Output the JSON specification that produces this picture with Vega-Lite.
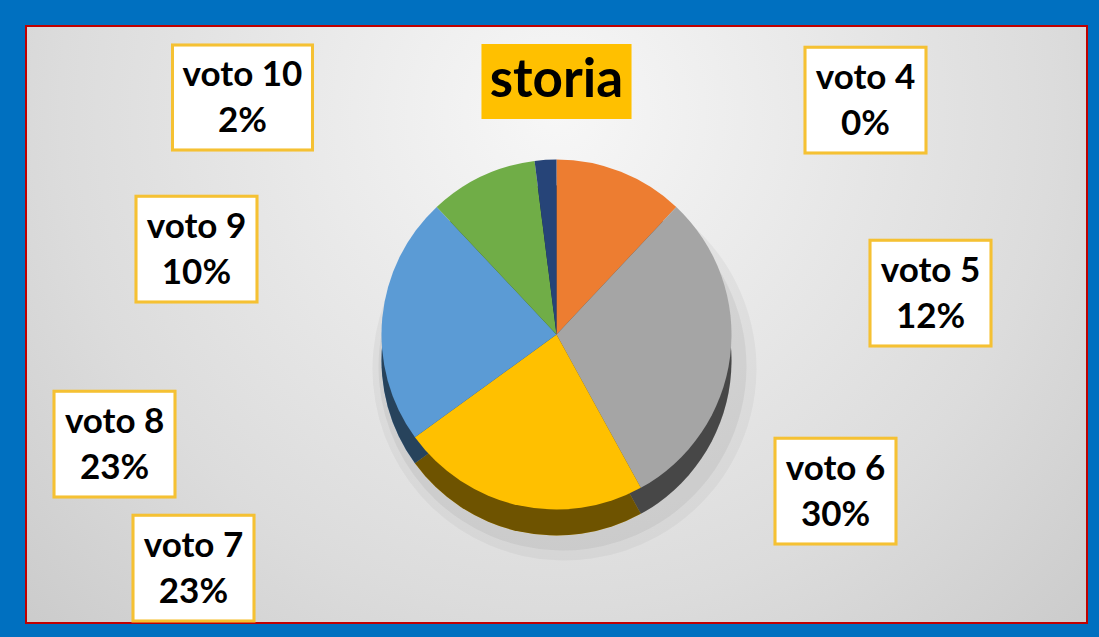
{
  "$schema": "https://vega.github.io/schema/vega-lite/v6.json",
  "width": 1061,
  "height": 597,
  "autosize": {"type": "none"},
  "padding": {"left": 26, "top": 26, "right": 12, "bottom": 14},
  "background": "#0070c0",
  "config": {"view": {"stroke": null}},
  "data": {
    "values": [
      {"voto": "voto 4", "grade": 4, "pct": 0},
      {"voto": "voto 5", "grade": 5, "pct": 0.12},
      {"voto": "voto 6", "grade": 6, "pct": 0.30},
      {"voto": "voto 7", "grade": 7, "pct": 0.23},
      {"voto": "voto 8", "grade": 8, "pct": 0.23},
      {"voto": "voto 9", "grade": 9, "pct": 0.10},
      {"voto": "voto 10", "grade": 10, "pct": 0.02}
    ]
  },
  "encoding": {
    "theta": {"field": "pct", "type": "quantitative", "stack": true},
    "order": {"field": "grade", "type": "quantitative"}
  },
  "layer": [
    {"data": {"values": [{"panel": "storia"}]},
     "mark": {"type": "rect", "stroke": "#c00000", "strokeWidth": 2,
       "fill": {"gradient": "radial", "x1": 0.5, "y1": 0.3, "r1": 0, "x2": 0.5, "y2": 0.3, "r2": 0.85,
         "stops": [{"offset": 0, "color": "#f7f7f7"}, {"offset": 0.55, "color": "#dcdcdc"}, {"offset": 1, "color": "#c0c0c0"}]}},
     "encoding": {"theta": null, "order": null}},

    {"mark": {"type": "arc", "radius": 192, "yOffset": 44, "xOffset": 8, "fill": "black", "opacity": 0.04}},
    {"mark": {"type": "arc", "radius": 184, "yOffset": 42, "xOffset": 6, "fill": "black", "opacity": 0.05}},

    {"mark": {"type": "arc", "radius": 175, "yOffset": 36},
     "encoding": {"color": {"field": "voto", "type": "nominal", "legend": null,
       "scale": {"domain": ["voto 4", "voto 5", "voto 6", "voto 7", "voto 8", "voto 9", "voto 10"],
                 "range": ["#4472c4", "#ed7d31", "#a5a5a5", "#ffc000", "#5b9bd5", "#70ad47", "#264478"]}}}},
    {"mark": {"type": "arc", "radius": 175, "yOffset": 36, "fill": "black", "opacity": 0.57}},
    {"mark": {"type": "arc", "radius": 175, "yOffset": 10},
     "encoding": {"color": {"field": "voto", "type": "nominal", "legend": null}}},

    {"data": {"values": [{"title": "storia"}]},
     "mark": {"type": "text", "theta": 0, "radius": 243.5, "dy": 19.5, "font": "Noto Sans CJK JP", "fontSize": 150, "baseline": "alphabetic", "align": "center", "fill": "#ffc000"},
     "encoding": {"theta": null, "order": null, "text": {"value": "▄"}}},
    {"data": {"values": [{"title": "storia"}]},
     "mark": {"type": "text", "theta": 0, "radius": 243.5, "font": "Lato", "fontSize": 53, "fontWeight": "bold", "baseline": "middle", "align": "center", "fill": "black"},
     "encoding": {"theta": null, "order": null, "text": {"field": "title"}}},

    {"mark": {"type": "text", "radius": 250, "dx": 309, "dy": 63, "font": "Noto Sans CJK JP", "fontSize": 121, "baseline": "alphabetic", "align": "center", "fill": "white", "stroke": "#f5c133", "strokeWidth": 3},
     "encoding": {"text": {"condition": {"test": "datum.grade == 4", "value": "▇"}, "value": ""}}},
    {"mark": {"type": "text", "radius": 250, "dx": 282, "dy": 238.5, "font": "Noto Sans CJK JP", "fontSize": 121, "baseline": "alphabetic", "align": "center", "fill": "white", "stroke": "#f5c133", "strokeWidth": 3},
     "encoding": {"text": {"condition": {"test": "datum.grade == 5", "value": "▇"}, "value": ""}}},
    {"mark": {"type": "text", "radius": 250, "dx": 31, "dy": 172.7, "font": "Noto Sans CJK JP", "fontSize": 121, "baseline": "alphabetic", "align": "center", "fill": "white", "stroke": "#f5c133", "strokeWidth": 3},
     "encoding": {"text": {"condition": {"test": "datum.grade == 6", "value": "▇"}, "value": ""}}},
    {"mark": {"type": "text", "radius": 250, "dx": -308.5, "dy": 38, "font": "Noto Sans CJK JP", "fontSize": 121, "baseline": "alphabetic", "align": "center", "fill": "white", "stroke": "#f5c133", "strokeWidth": 3},
     "encoding": {"text": {"condition": {"test": "datum.grade == 7", "value": "▇"}, "value": ""}}},
    {"mark": {"type": "text", "radius": 250, "dx": -193, "dy": 181.5, "font": "Noto Sans CJK JP", "fontSize": 121, "baseline": "alphabetic", "align": "center", "fill": "white", "stroke": "#f5c133", "strokeWidth": 3},
     "encoding": {"text": {"condition": {"test": "datum.grade == 8", "value": "▇"}, "value": ""}}},
    {"mark": {"type": "text", "radius": 250, "dx": -253.6, "dy": 189.2, "font": "Noto Sans CJK JP", "fontSize": 121, "baseline": "alphabetic", "align": "center", "fill": "white", "stroke": "#f5c133", "strokeWidth": 3},
     "encoding": {"text": {"condition": {"test": "datum.grade == 9", "value": "▇"}, "value": ""}}},
    {"mark": {"type": "text", "radius": 250, "dx": -298.3, "dy": 58.5, "font": "Noto Sans CJK JP", "fontSize": 140, "baseline": "alphabetic", "align": "center", "fill": "white", "stroke": "#f5c133", "strokeWidth": 3},
     "encoding": {"text": {"condition": {"test": "datum.grade == 10", "value": "▆"}, "value": ""}}},

    {"mark": {"type": "text", "radius": 250, "dx": 309, "dy": 3, "font": "Lato", "fontSize": 35, "fontWeight": "bold", "baseline": "middle", "align": "center", "fill": "black"},
     "encoding": {"text": {"condition": {"test": "datum.grade == 4", "field": "voto"}, "value": ""}}},
    {"mark": {"type": "text", "radius": 250, "dx": 282, "dy": 178.5, "font": "Lato", "fontSize": 35, "fontWeight": "bold", "baseline": "middle", "align": "center", "fill": "black"},
     "encoding": {"text": {"condition": {"test": "datum.grade == 5", "field": "voto"}, "value": ""}}},
    {"mark": {"type": "text", "radius": 250, "dx": 31, "dy": 112.7, "font": "Lato", "fontSize": 35, "fontWeight": "bold", "baseline": "middle", "align": "center", "fill": "black"},
     "encoding": {"text": {"condition": {"test": "datum.grade == 6", "field": "voto"}, "value": ""}}},
    {"mark": {"type": "text", "radius": 250, "dx": -308.5, "dy": -22, "font": "Lato", "fontSize": 35, "fontWeight": "bold", "baseline": "middle", "align": "center", "fill": "black"},
     "encoding": {"text": {"condition": {"test": "datum.grade == 7", "field": "voto"}, "value": ""}}},
    {"mark": {"type": "text", "radius": 250, "dx": -193, "dy": 121.5, "font": "Lato", "fontSize": 35, "fontWeight": "bold", "baseline": "middle", "align": "center", "fill": "black"},
     "encoding": {"text": {"condition": {"test": "datum.grade == 8", "field": "voto"}, "value": ""}}},
    {"mark": {"type": "text", "radius": 250, "dx": -253.6, "dy": 129.2, "font": "Lato", "fontSize": 35, "fontWeight": "bold", "baseline": "middle", "align": "center", "fill": "black"},
     "encoding": {"text": {"condition": {"test": "datum.grade == 9", "field": "voto"}, "value": ""}}},
    {"mark": {"type": "text", "radius": 250, "dx": -298.3, "dy": 0.5, "font": "Lato", "fontSize": 35, "fontWeight": "bold", "baseline": "middle", "align": "center", "fill": "black"},
     "encoding": {"text": {"condition": {"test": "datum.grade == 10", "field": "voto"}, "value": ""}}},

    {"mark": {"type": "text", "radius": 250, "dx": 309, "dy": 49, "font": "Lato", "fontSize": 35, "fontWeight": "bold", "baseline": "middle", "align": "center", "fill": "black"},
     "encoding": {"text": {"condition": {"test": "datum.grade == 4", "field": "pct", "type": "quantitative", "format": ".0%"}, "value": ""}}},
    {"mark": {"type": "text", "radius": 250, "dx": 282, "dy": 224.5, "font": "Lato", "fontSize": 35, "fontWeight": "bold", "baseline": "middle", "align": "center", "fill": "black"},
     "encoding": {"text": {"condition": {"test": "datum.grade == 5", "field": "pct", "type": "quantitative", "format": ".0%"}, "value": ""}}},
    {"mark": {"type": "text", "radius": 250, "dx": 31, "dy": 158.7, "font": "Lato", "fontSize": 35, "fontWeight": "bold", "baseline": "middle", "align": "center", "fill": "black"},
     "encoding": {"text": {"condition": {"test": "datum.grade == 6", "field": "pct", "type": "quantitative", "format": ".0%"}, "value": ""}}},
    {"mark": {"type": "text", "radius": 250, "dx": -308.5, "dy": 24, "font": "Lato", "fontSize": 35, "fontWeight": "bold", "baseline": "middle", "align": "center", "fill": "black"},
     "encoding": {"text": {"condition": {"test": "datum.grade == 7", "field": "pct", "type": "quantitative", "format": ".0%"}, "value": ""}}},
    {"mark": {"type": "text", "radius": 250, "dx": -193, "dy": 167.5, "font": "Lato", "fontSize": 35, "fontWeight": "bold", "baseline": "middle", "align": "center", "fill": "black"},
     "encoding": {"text": {"condition": {"test": "datum.grade == 8", "field": "pct", "type": "quantitative", "format": ".0%"}, "value": ""}}},
    {"mark": {"type": "text", "radius": 250, "dx": -253.6, "dy": 175.2, "font": "Lato", "fontSize": 35, "fontWeight": "bold", "baseline": "middle", "align": "center", "fill": "black"},
     "encoding": {"text": {"condition": {"test": "datum.grade == 9", "field": "pct", "type": "quantitative", "format": ".0%"}, "value": ""}}},
    {"mark": {"type": "text", "radius": 250, "dx": -298.3, "dy": 46.5, "font": "Lato", "fontSize": 35, "fontWeight": "bold", "baseline": "middle", "align": "center", "fill": "black"},
     "encoding": {"text": {"condition": {"test": "datum.grade == 10", "field": "pct", "type": "quantitative", "format": ".0%"}, "value": ""}}}
  ]
}
